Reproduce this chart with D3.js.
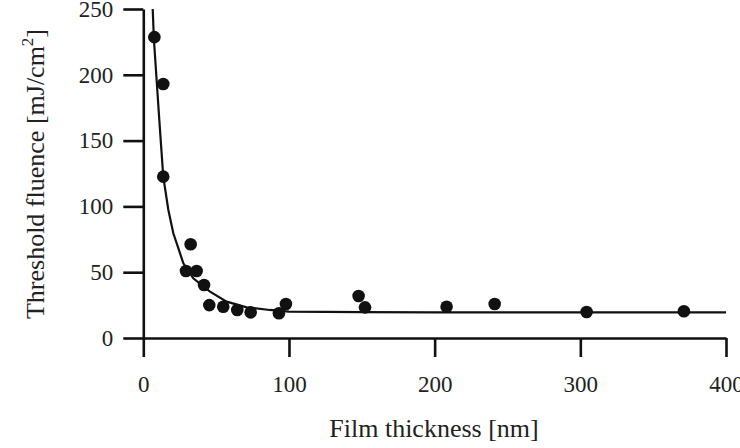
<!DOCTYPE html>
<html lang="en">
<head>
<meta charset="utf-8">
<title>Threshold fluence vs film thickness</title>
<script src="https://d3js.org/d3.v7.min.js"></script>
<style>
  body { margin: 0; background: #fff; }
  svg text { font-family: 'Liberation Serif', 'Times New Roman', Times, 'DejaVu Serif', serif !important; fill: #222; }
</style>
</head>
<body>
<script>
// measured points: film thickness [nm], threshold fluence [mJ/cm2]
var thickness = [7.6, 13.7, 13.7, 32.5, 29.3, 36.6, 41.7, 45.3, 54.9, 64.5, 73.7, 93.1, 97.9, 147.8, 152.2, 208.2, 241.2, 304.3, 371.1];
var fluence   = [228.6, 193, 122.6, 71.2, 50.9, 50.9, 40.3, 25, 23.8, 21.3, 19.5, 18.8, 25.8, 31.9, 23.3, 23.8, 25.8, 19.8, 20.3];

// fitted curve as drawn
var fitX = [6.45, 7.3, 11.0, 13.7, 17.2, 20.6, 27.5, 34.3, 45.8, 57.2, 70.9, 86.9, 100, 150, 200, 300, 400];
var fitY = [250, 226.4, 165.6, 122.6, 97.3, 79.6, 56.8, 45.4, 35.2, 27.6, 23.3, 21.3, 20.1, 19.6, 19.5, 19.5, 19.5];

var xTicks = [0, 100, 200, 300, 400];
var yTicks = [0, 50, 100, 150, 200, 250];

var width = 740, height = 448;
var svg = d3.select("body").append("svg")
  .attr("width", width)
  .attr("height", height);

var x = d3.scaleLinear().domain([0, 400]).range([143.3, 726]);
var y = d3.scaleLinear().domain([0, 250]).range([338, 9]);

// axes
var gx = svg.append("g")
  .attr("transform", "translate(0," + y(0) + ")")
  .call(d3.axisBottom(x).tickValues(xTicks).tickSize(19).tickSizeOuter(0).tickFormat(d3.format("d")));

var gy = svg.append("g")
  .attr("transform", "translate(" + x(0) + ",0)")
  .call(d3.axisLeft(y).tickValues(yTicks).tickSize(20).tickSizeOuter(0).tickFormat(d3.format("d")));

[gx, gy].forEach(function(g) {
  g.attr("font-family", null);
  g.select(".domain").attr("stroke", "#111").attr("stroke-width", 2.6);
  g.selectAll(".tick line").attr("stroke", "#111").attr("stroke-width", 2.6);
  g.selectAll(".tick text")
    .attr("font-size", "23px")
    .attr("fill", "#222");
});
gx.selectAll(".tick text").attr("y", 38).attr("dy", "0.71em");
gy.selectAll(".tick text").attr("x", -30).attr("dy", "0.32em");

// fit line
var line = d3.line()
  .x(function(d) { return x(d[0]); })
  .y(function(d) { return y(d[1]); });

svg.append("path")
  .datum(d3.zip(fitX, fitY))
  .attr("d", line)
  .attr("fill", "none")
  .attr("stroke", "#111")
  .attr("stroke-width", 2.2);

// data points
svg.append("g")
  .selectAll("circle")
  .data(d3.zip(thickness, fluence))
  .enter()
  .append("circle")
  .attr("cx", function(d) { return x(d[0]); })
  .attr("cy", function(d) { return y(d[1]); })
  .attr("r", 6.3)
  .attr("fill", "#111");

// axis titles
svg.append("text")
  .attr("x", 434)
  .attr("y", 437)
  .attr("text-anchor", "middle")
  .attr("font-size", "26px")
  .text("Film thickness [nm]");

var yt = svg.append("text")
  .attr("transform", "translate(44,174) rotate(-90)")
  .attr("text-anchor", "middle")
  .attr("font-size", "26px");
yt.append("tspan").text("Threshold fluence [mJ/cm");
yt.append("tspan").attr("font-size", "17px").attr("dy", -11).text("2");
yt.append("tspan").attr("dy", 11).text("]");
</script>
</body>
</html>
